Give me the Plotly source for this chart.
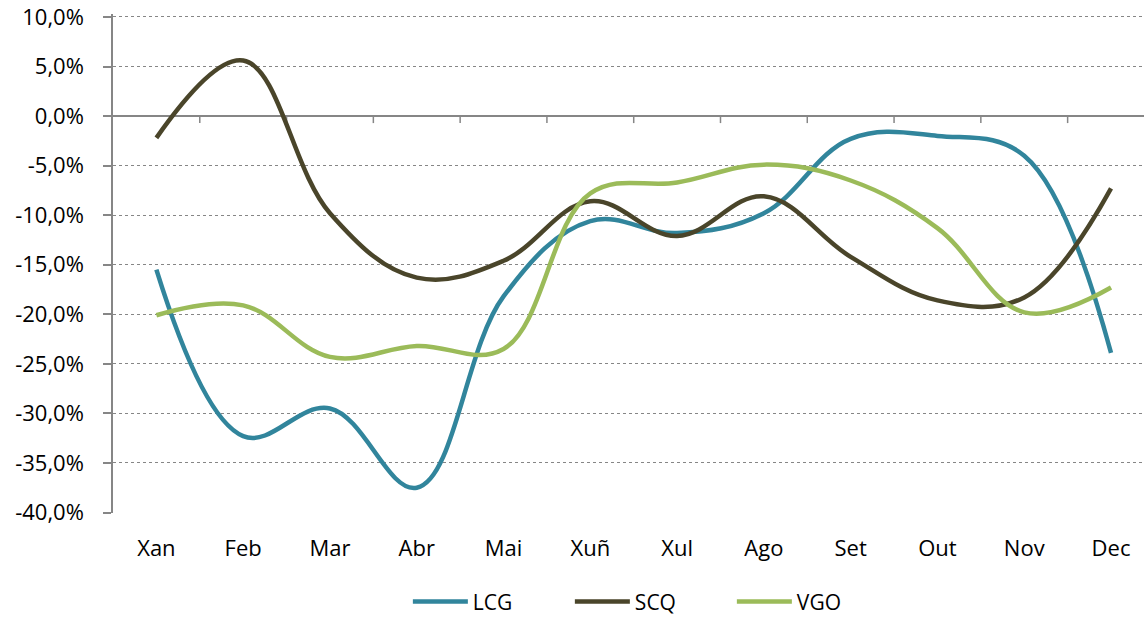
import plotly.graph_objects as go

months = ["Xan", "Feb", "Mar", "Abr", "Mai", "Xuñ", "Xul", "Ago", "Set", "Out", "Nov", "Dec"]
lcg = [-15.5, -32.3, -29.5, -37.5, -18.2, -10.6, -11.8, -9.8, -2.3, -2.0, -4.0, -23.9]
scq = [-2.2, 5.6, -9.8, -16.3, -14.6, -8.6, -12.1, -8.1, -14.2, -18.6, -18.3, -7.3]
vgo = [-20.1, -19.1, -24.3, -23.2, -23.5, -7.8, -6.7, -4.9, -6.5, -11.3, -19.8, -17.3]
y_ticks = [10, 5, 0, -5, -10, -15, -20, -25, -30, -35, -40]
y_labels = ["10,0%", "5,0%", "0,0%", "-5,0%", "-10,0%", "-15,0%", "-20,0%",
            "-25,0%", "-30,0%", "-35,0%", "-40,0%"]

series = [("LCG", lcg, "#31859C"), ("SCQ", scq, "#4A452A"), ("VGO", vgo, "#9BBB59")]

fig = go.Figure()
for name, vals, col in series:
    fig.add_trace(go.Scatter(x=months, y=vals, name=name, mode="lines",
                             line=dict(color=col, width=4.5, shape="spline", smoothing=1.1)))

shapes = []
for i in range(len(months) - 1):
    shapes.append(dict(type="line", xref="x", yref="y", ysizemode="pixel", yanchor=0,
                       x0=i + 0.5, x1=i + 0.5, y0=0, y1=-7,
                       line=dict(color="#868686", width=1.5), layer="below"))

fig.update_layout(
    width=1144, height=617,
    margin=dict(l=113, r=0, t=14, b=103.5, autoexpand=False),
    paper_bgcolor="white", plot_bgcolor="white",
    font=dict(family="Open Sans, Lato, sans-serif", size=22, color="#000000"),
    showlegend=True,
    legend=dict(orientation="h", x=0.286, xanchor="left", y=-0.137, yanchor="top",
                font=dict(size=21), itemwidth=55, entrywidth=92, traceorder="normal"),
    shapes=shapes,
)
fig.update_xaxes(type="category", range=[-0.5, 11.38], showgrid=False, showline=False,
                 ticks="", ticklabelstandoff=20, zeroline=False)
fig.update_yaxes(range=[-40.05, 10.3], tickvals=y_ticks, ticktext=y_labels,
                 ticklabeloverflow="allow",
                 showgrid=True, gridcolor="#868686", griddash="dot", gridwidth=1,
                 showline=True, linecolor="#868686", linewidth=1.5,
                 ticks="outside", ticklen=8, tickcolor="#868686", tickwidth=1.5,
                 ticklabelstandoff=15,
                 zeroline=True, zerolinecolor="#868686", zerolinewidth=1.5)

# remove the default 8px page margin so the figure fills the window exactly
fig.write_html("out.html", config={"displayModeBar": False},
               post_script="document.body.style.margin='0';")
